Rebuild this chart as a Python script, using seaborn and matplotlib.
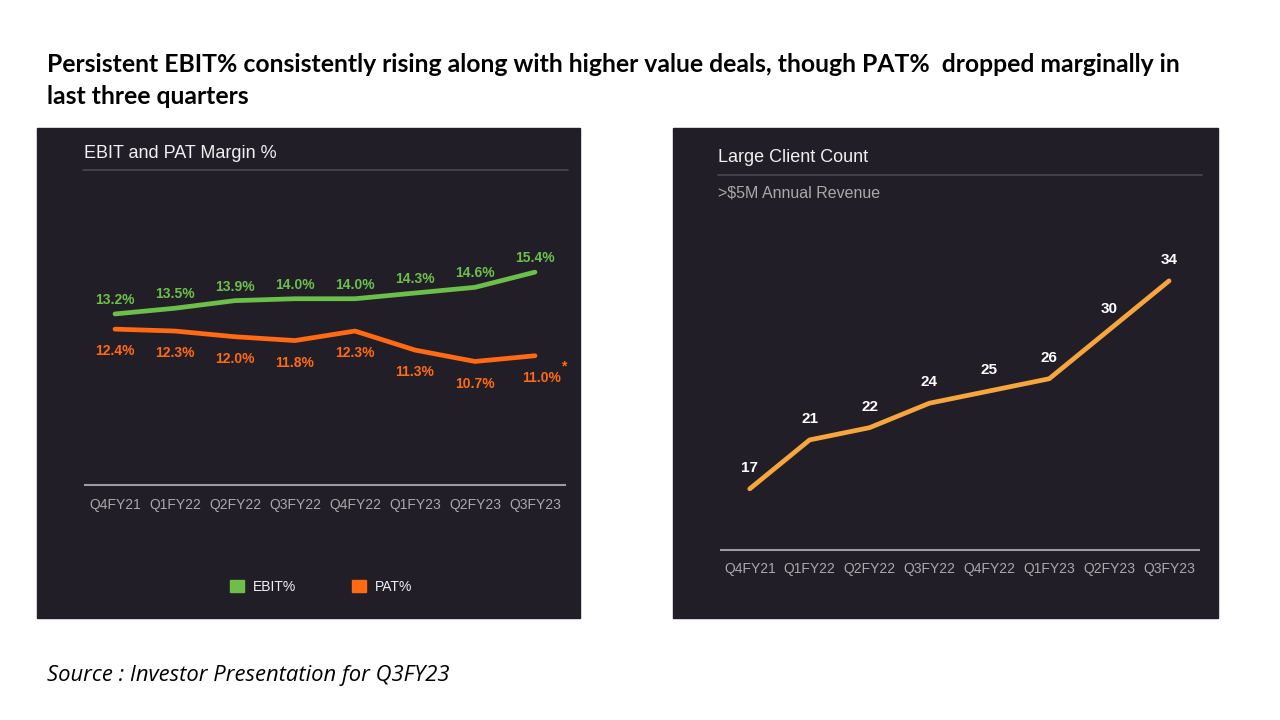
import pandas as pd
import matplotlib.pyplot as plt
import seaborn as sns
from matplotlib.patches import Rectangle, Patch
from matplotlib.lines import Line2D

quarters = ["Q4FY21", "Q1FY22", "Q2FY22", "Q3FY22", "Q4FY22", "Q1FY23", "Q2FY23", "Q3FY23"]
ebit = [13.2, 13.5, 13.9, 14.0, 14.0, 14.3, 14.6, 15.4]
pat = [12.4, 12.3, 12.0, 11.8, 12.3, 11.3, 10.7, 11.0]
clients = [17, 21, 22, 24, 25, 26, 30, 34]

BG = "#221e27"
GREEN = "#6cc04a"
ORANGE = "#ff6a13"
GOLD = "#f6a63c"
TICK = "#a9a9a9"

W, H = 1280, 720


def rect(left, top, right, bottom):
    return [left / W, 1 - bottom / H, (right - left) / W, (bottom - top) / H]


sns.set_theme(style="white")
plt.rcParams["font.family"] = ["Liberation Sans", "DejaVu Sans"]

fig = plt.figure(figsize=(12.8, 7.2), dpi=100)
fig.patch.set_facecolor("white")

# dark panels
for x0, x1 in [(37, 580), (673, 1218)]:
    fig.patches.append(Rectangle((x0 / W, 1 - 618 / H), (x1 - x0) / W, 490 / H,
                                 transform=fig.transFigure, color=BG, zorder=-5))

# headline
fig.text(47 / W, 1 - 64 / H, "Persistent EBIT% consistently rising along with higher value deals, though PAT%  dropped marginally in",
         family="Lato", weight="bold", fontsize=17.8, va="center", ha="left", color="black")
fig.text(47 / W, 1 - 96 / H, "last three quarters",
         family="Lato", weight="bold", fontsize=17.8, va="center", ha="left", color="black")
fig.text(47 / W, 1 - 675 / H, "Source : Investor Presentation for Q3FY23",
         family="Open Sans", style="italic", fontsize=15.8, va="center", ha="left", color="black")

# panel titles and separators
fig.text(84 / W, 1 - 153 / H, "EBIT and PAT Margin %", color="#f0f0f0", fontsize=13, va="center")
fig.lines.append(Line2D([83 / W, 568 / W], [1 - 170 / H] * 2, transform=fig.transFigure, color="#4b4752", lw=1.2))
fig.text(718 / W, 1 - 158 / H, "Large Client Count", color="#f0f0f0", fontsize=13, va="center")
fig.lines.append(Line2D([718 / W, 1202 / W], [1 - 175 / H] * 2, transform=fig.transFigure, color="#4b4752", lw=1.2))
fig.text(718 / W, 1 - 193 / H, ">$5M Annual Revenue", color="#a8a8a8", fontsize=11.5, va="center")

# left chart
margin = pd.DataFrame({
    "quarter": list(range(len(quarters))) * 2,
    "value": ebit + pat,
    "series": ["EBIT%"] * len(ebit) + ["PAT%"] * len(pat),
})
ax1 = fig.add_axes(rect(85, 240, 565, 485))
sns.lineplot(data=margin, x="quarter", y="value", hue="series", palette=[GREEN, ORANGE],
             lw=3.4, ax=ax1, legend=False, solid_capstyle="round")
ax1.set_xlim(-0.5, 7.5)
ax1.set_ylim(4.2, 17.09)
for i, v in enumerate(ebit):
    ax1.annotate(f"{v:.1f}%", (i, v), xytext=(0, 10), textcoords="offset points",
                 ha="center", va="center", color=GREEN, fontsize=10, weight="bold")
for i, v in enumerate(pat):
    dx = 5 if i == len(pat) - 1 else 0
    ax1.annotate(f"{v:.1f}%", (i, v), xytext=(dx, -16), textcoords="offset points",
                 ha="center", va="center", color=ORANGE, fontsize=10, weight="bold")
ax1.annotate("*", (7, pat[-1]), xytext=(21, -8), textcoords="offset points",
             ha="center", va="center", color=ORANGE, fontsize=10, weight="bold")
ax1.legend(handles=[Patch(color=GREEN, label="EBIT%"), Patch(color=ORANGE, label="PAT%")],
           loc="center", bbox_to_anchor=(321 / W, 1 - 587 / H), bbox_transform=fig.transFigure,
           ncol=2, frameon=False, handlelength=1, handleheight=1, handletextpad=0.65,
           columnspacing=4.0, fontsize=10, labelcolor="#f0f0f0")

# right chart
count = pd.DataFrame({"quarter": list(range(len(quarters))), "clients": clients})
ax2 = fig.add_axes(rect(721, 240, 1199, 550))
sns.lineplot(data=count, x="quarter", y="clients", color=GOLD, lw=3.4, ax=ax2,
             solid_capstyle="round")
ax2.set_xlim(-0.48, 7.5)
ax2.set_ylim(12, 37.34)
for i, v in enumerate(clients):
    ax2.annotate(str(v), (i, v), xytext=(0, 15), textcoords="offset points",
                 ha="center", va="center", color="white", fontsize=11, weight="bold")

for ax in (ax1, ax2):
    ax.set_zorder(2)
    ax.set_facecolor("none")
    ax.set_xticks(range(len(quarters)))
    ax.set_xticklabels(quarters)
    ax.set_yticks([])
    ax.set_xlabel("")
    ax.set_ylabel("")
    for s in ("left", "right", "top"):
        ax.spines[s].set_visible(False)
    ax.spines["bottom"].set_color("#9c9c9c")
    ax.spines["bottom"].set_linewidth(1.5)
    ax.tick_params(axis="x", length=0, pad=9, labelsize=10, labelcolor=TICK)

fig.savefig("out.png", dpi=100, facecolor="white")
